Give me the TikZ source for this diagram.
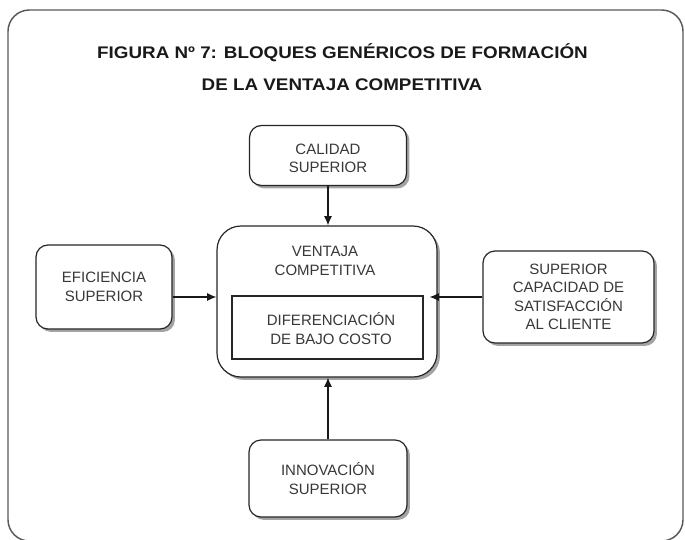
\documentclass[tikz,border=0pt]{standalone}
\usepackage{fontspec}
\setmainfont{Liberation Sans}
\newfontfamily\titlefont{Liberation Sans}[FakeStretch=1.12]
\usetikzlibrary{arrows.meta,shadows}
\begin{document}
\begin{tikzpicture}[x=0.75pt,y=-0.75pt,
  box/.style={draw=black!85, line width=0.9pt, fill=white, rounded corners=9pt,
    drop shadow={shadow xshift=2.2pt, shadow yshift=-2.2pt, fill=black!45, opacity=0.8},
    font=\fontsize{11.25pt}{13.9pt}\selectfont, text=black!78, align=center, inner sep=0pt},
  bigbox/.style={box, rounded corners=18pt},
  plainbox/.style={draw=black!85, line width=0.9pt, fill=white, inner sep=0pt},
  txt/.style={font=\fontsize{11.25pt}{13.9pt}\selectfont, text=black!78, align=center, inner sep=0pt},
  ttl/.style={font=\titlefont\bfseries\fontsize{12.6pt}{15pt}\selectfont, text=black!90, inner sep=0pt, anchor=base},
  arr/.style={-{Latex[length=7pt,width=6pt]}, line width=0.8pt, draw=black!90}]
\useasboundingbox (0,0) rectangle (685,539);
\draw[line width=1.1pt, draw=black!65, rounded corners=16pt] (8,10) rectangle (683,541);
\node[ttl] (t1) at (342.5,58) {FIGURA Nº 7: BLOQUES GENÉRICOS DE FORMACIÓN};
\node[ttl] (t2) at (342,90) {DE LA VENTAJA COMPETITIVA};
% boxes
\node[box, minimum width=157*0.75pt, minimum height=60*0.75pt] (cal) at (328,155.5) {};
\node[txt] (caltxt) at (328,158.5) {CALIDAD\\SUPERIOR};
\node[bigbox, minimum width=220*0.75pt, minimum height=151*0.75pt] (vent) at (327,301.5) {};
\node[txt] (vtxt) at (325,261) {VENTAJA\\COMPETITIVA};
\node[plainbox, minimum width=191*0.75pt, minimum height=63*0.75pt] (inner) at (327.5,327.5) {};
\node[txt] (itxt) at (331,328.5) {DIFERENCIACIÓN\\DE BAJO COSTO};
\node[box, minimum width=136*0.75pt, minimum height=84*0.75pt] (eff) at (104,287) {EFICIENCIA\\SUPERIOR};
\node[box, minimum width=171*0.75pt, minimum height=92*0.75pt] (sat) at (568.5,297) {SUPERIOR\\CAPACIDAD DE\\SATISFACCIÓN\\AL CLIENTE};
\node[box, minimum width=158*0.75pt, minimum height=77*0.75pt] (inn) at (328,478.5) {INNOVACIÓN\\SUPERIOR};
% arrows
\draw[arr] (cal.south) -- (cal.south |- vent.north);
\draw[arr] (inn.north) -- (inn.north |- vent.south);
\draw[arr] (eff.east |- sat.west) -- (vent.west |- sat.west);
\draw[arr] (sat.west) -- ([xshift=-6pt]vent.east |- sat.west);
\end{tikzpicture}
\end{document}
